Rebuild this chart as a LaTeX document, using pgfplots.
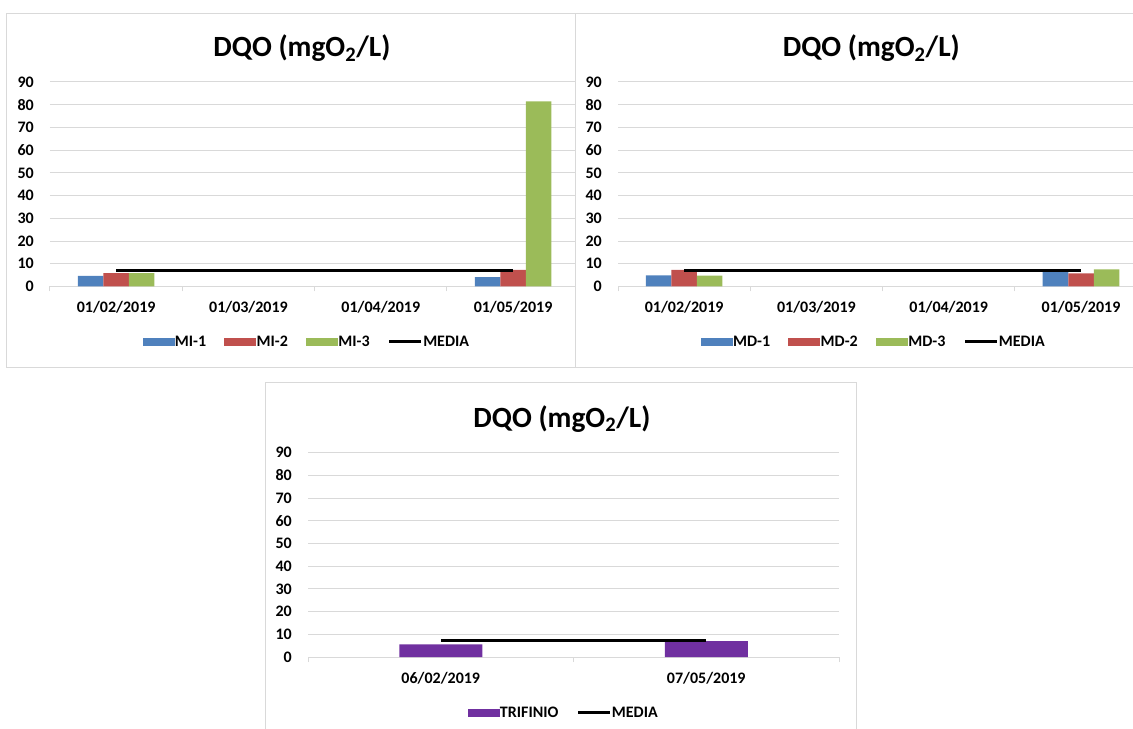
\documentclass[border=0pt]{standalone}
\usepackage{pgfplots}
\pgfplotsset{compat=1.18}
\usepackage{fontspec}
\setmainfont{Carlito}
\definecolor{cblue}{HTML}{4F81BD}
\definecolor{cred}{HTML}{C0504D}
\definecolor{cgreen}{HTML}{9BBB59}
\definecolor{cpurple}{HTML}{7030A0}
\definecolor{cgrid}{HTML}{D9D9D9}
\pgfplotsset{
  dqo/.style={
    scale only axis,
    ymin=0, ymax=90, ytick={0,10,...,90},
    xmin=-0.5,
    ymajorgrids, grid style={cgrid, line width=0.75pt},
    axis line style={draw=none},
    xtick pos=bottom, ytick pos=left,
    major tick length=0pt,
    minor tick length=3.75pt,
    tick align=outside,
    minor tick style={cgrid, line width=0.75pt},
    /pgf/number format/assume math mode=true,
    tick label style={font=\bfseries\fontsize{12}{14}\selectfont},
    yticklabel style={anchor=east, inner sep=0pt, xshift=-12pt},
    xticklabel style={anchor=center, inner sep=0pt, yshift=-15.75pt},
    legend columns=-1,
    legend style={draw=none, fill=none, anchor=center,
      font=\bfseries\fontsize{12}{14}\selectfont,
      nodes={inner sep=0.2pt},
      /tikz/every even column/.append style={column sep=13.5pt}},
  },
  barleg/.style={legend image code/.code={\fill[##1] (0pt,-3.25pt) rectangle (24pt,3.25pt);}},
  lineleg/.style={legend image code/.code={\draw[##1] (0pt,0pt) -- (24pt,0pt);}},
}
\begin{document}
\begin{tikzpicture}
\useasboundingbox (0,0) rectangle (849.75pt,546.75pt);
% chart frames
\draw[cgrid, line width=0.75pt] (4.5pt,536.6pt) rectangle (431.25pt,270.75pt);
\draw[cgrid, line width=0.75pt] (849.75pt,536.6pt) -- (431.6pt,536.6pt) -- (431.6pt,270.75pt) -- (849.75pt,270.75pt);
\draw[cgrid, line width=0.75pt] (198.75pt,0pt) -- (198.75pt,259.5pt) -- (642.4pt,259.5pt) -- (642.4pt,0pt);
% titles
\node[anchor=base, font=\bfseries\fontsize{22}{26}\selectfont, inner sep=0pt] at (226.5pt,504pt) {DQO (mgO\textsubscript{2}/L)};
\node[anchor=base, font=\bfseries\fontsize{22}{26}\selectfont, inner sep=0pt] at (653.5pt,504pt) {DQO (mgO\textsubscript{2}/L)};
\node[anchor=base, font=\bfseries\fontsize{22}{26}\selectfont, inner sep=0pt] at (421.5pt,226pt) {DQO (mgO\textsubscript{2}/L)};

% top-left
\begin{axis}[dqo, at={(37.5pt,331.875pt)}, anchor=south west,
  width=393.75pt, height=153.4pt, xmax=3.468,
  xtick={0,1,2,3}, xticklabels={01/02/2019,01/03/2019,01/04/2019,01/05/2019},
  minor xtick={-0.5,0.5,1.5,2.5},
  legend style={at={(0.4876,-0.271)}}]
\addplot[ybar, bar width=0.193, bar shift=-0.193, fill=cblue, draw=none, barleg] coordinates {(0,4.7) (3,4.1)};
\addplot[ybar, bar width=0.193, bar shift=0, fill=cred, draw=none, barleg] coordinates {(0,5.9) (3,7.3)};
\addplot[ybar, bar width=0.193, bar shift=0.193, fill=cgreen, draw=none, barleg] coordinates {(0,5.9) (3,81.5)};
\addplot[black, line width=2.25pt, mark=none, lineleg] coordinates {(0,7.0) (3,7.0)};
\legend{MI-1,MI-2,MI-3,MEDIA}
\end{axis}

% top-right
\begin{axis}[dqo, at={(463.5pt,331.875pt)}, anchor=south west,
  width=386.25pt, height=153.4pt, xmax=3.393,
  xtick={0,1,2,3}, xticklabels={01/02/2019,01/03/2019,01/04/2019,01/05/2019},
  minor xtick={-0.5,0.5,1.5,2.5},
  legend style={at={(0.495,-0.271)}}]
\addplot[ybar, bar width=0.193, bar shift=-0.193, fill=cblue, draw=none, barleg] coordinates {(0,4.9) (3,6.6)};
\addplot[ybar, bar width=0.193, bar shift=0, fill=cred, draw=none, barleg] coordinates {(0,7.3) (3,5.8)};
\addplot[ybar, bar width=0.193, bar shift=0.193, fill=cgreen, draw=none, barleg] coordinates {(0,4.8) (3,7.5)};
\addplot[black, line width=2.25pt, mark=none, lineleg] coordinates {(0,6.9) (3,6.9)};
\legend{MD-1,MD-2,MD-3,MEDIA}
\end{axis}

% bottom
\begin{axis}[dqo, at={(231pt,54pt)}, anchor=south west,
  width=398.25pt, height=153.2pt, xmax=1.5,
  xtick={0,1}, xticklabels={06/02/2019,07/05/2019},
  minor xtick={-0.5,0.5,1.5},
  legend style={at={(0.480,-0.274)}}]
\addplot[ybar, bar width=0.3126, bar shift=0, fill=cpurple, draw=none, barleg] coordinates {(0,5.6) (1,7.0)};
\addplot[black, line width=2.25pt, mark=none, lineleg] coordinates {(0,7.1) (1,7.1)};
\legend{TRIFINIO,MEDIA}
\end{axis}
\end{tikzpicture}
\end{document}
